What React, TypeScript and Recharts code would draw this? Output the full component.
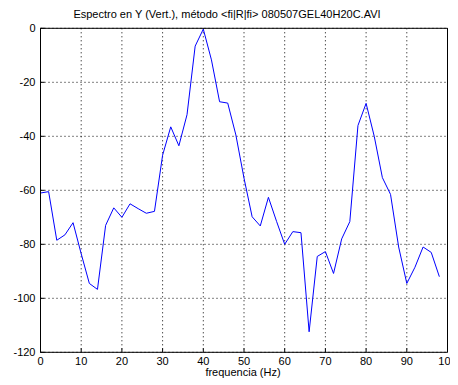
import React from "react";
import { LineChart, Line, XAxis, YAxis, CartesianGrid } from "recharts";

const frequencies = [
  0, 2, 4, 6, 8, 10, 12, 14, 16, 18, 20, 22, 24, 26, 28, 30, 32, 34, 36, 38,
  40, 42, 44, 46, 48, 50, 52, 54, 56, 58, 60, 62, 64, 66, 68, 70, 72, 74, 76, 78,
  80, 82, 84, 86, 88, 90, 92, 94, 96, 98,
];
const spectrum = [
  -61, -60.5, -78.5, -76.5, -72, -83.5, -94.5, -96.7, -73, -66.5, -70, -65, -66.8, -68.5, -67.8, -47, -36.5, -43.5, -32, -6.6,
  -0.3, -11.7, -27.2, -27.7, -39.5, -55.5, -69.8, -73.2, -62.6, -71.5, -80, -75.3, -75.7, -112.4, -84.5, -82.7, -90.8, -78, -71.6, -36,
  -27.8, -40, -55.3, -61.5, -81, -94.5, -88.5, -81, -83, -92,
];
const xTicks = [0, 10, 20, 30, 40, 50, 60, 70, 80, 90, 100];
const yTicks = [0, -20, -40, -60, -80, -100, -120];
const title = "Espectro en Y (Vert.), método <fi|R|fi> 080507GEL40H20C.AVI";
const xLabel = "frequencia (Hz)";

const data = frequencies.map((f, i) => ({ f, v: spectrum[i] }));

const FONT = "'Liberation Sans', Arial, sans-serif";
const tickStyle = { fontSize: 11, fill: "#000", fontFamily: FONT };

export default function App() {
  return (
    <div style={{ position: "relative", width: 450, height: 377, fontFamily: FONT }}>
      <div
        style={{
          position: "absolute",
          left: 0,
          top: 0,
          width: 438,
          textAlign: "center",
          fontSize: 11,
          lineHeight: "12px",
          color: "#000",
          whiteSpace: "nowrap",
        }}
      >
        {title}
      </div>
      <LineChart
        width={450}
        height={377}
        data={data}
        margin={{ top: 19.3, right: 9.5, bottom: 2.7, left: 2.5 }}
      >
        <CartesianGrid
          xAxisId="b"
          yAxisId="l"
          stroke="#000"
          strokeDasharray="1 3"
          horizontalValues={yTicks}
          verticalValues={xTicks}
        />
        <XAxis
          xAxisId="b"
          dataKey="f"
          type="number"
          domain={[0, 100]}
          ticks={xTicks}
          height={30}
          tickSize={-4}
          tickMargin={9}
          tick={tickStyle}
          stroke="#000"
          axisLine={{ stroke: "#000" }}
          tickLine={{ stroke: "#000" }}
          interval={0}
        />
        <XAxis
          xAxisId="t"
          dataKey="f"
          type="number"
          orientation="top"
          domain={[0, 100]}
          ticks={xTicks}
          height={1}
          tickSize={-4}
          tick={false}
          stroke="#000"
          axisLine={{ stroke: "#000" }}
          tickLine={{ stroke: "#000" }}
          interval={0}
        />
        <YAxis
          yAxisId="l"
          type="number"
          domain={[-120, 0]}
          ticks={yTicks}
          width={30}
          tickSize={-4}
          tickMargin={9}
          tick={tickStyle}
          stroke="#000"
          axisLine={{ stroke: "#000" }}
          tickLine={{ stroke: "#000" }}
          interval={0}
        />
        <YAxis
          yAxisId="r"
          type="number"
          orientation="right"
          domain={[-120, 0]}
          ticks={yTicks}
          width={1}
          tickSize={-4}
          tick={false}
          stroke="#000"
          axisLine={{ stroke: "#000" }}
          tickLine={{ stroke: "#000" }}
          interval={0}
        />
        <Line
          xAxisId="b"
          yAxisId="l"
          dataKey="v"
          stroke="#0000ff"
          strokeWidth={1}
          dot={false}
          isAnimationActive={false}
        />
      </LineChart>
      <div
        style={{
          position: "absolute",
          left: 135,
          width: 200,
          top: 357,
          textAlign: "center",
          fontSize: 11,
          lineHeight: "14px",
          color: "#000",
        }}
      >
        {xLabel}
      </div>
    </div>
  );
}
